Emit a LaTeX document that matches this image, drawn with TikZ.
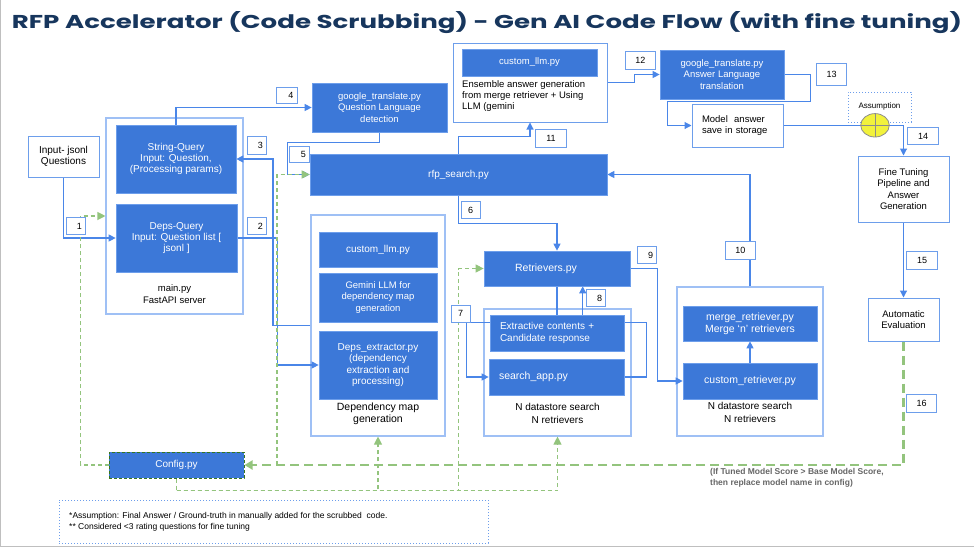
\documentclass[tikz,border=0pt]{standalone}
\usepackage{graphicx}
\usepackage{fontspec}
\setmainfont{Liberation Sans}
\newfontfamily\titlefont{Poppins}
\usetikzlibrary{arrows.meta,calc,shapes.geometric}
\pgfdeclarelayer{bg}
\pgfdeclarelayer{mid}
\pgfsetlayers{bg,mid,main}
\definecolor{dblue}{HTML}{3C78D8}
\definecolor{lnblue}{HTML}{4A86E8}
\definecolor{cblue}{HTML}{9FC0F5}
\definecolor{wblue}{HTML}{6D9EEB}
\definecolor{gdash}{HTML}{93C47D}
\definecolor{gdark}{HTML}{38761D}
\definecolor{ttl}{HTML}{17365D}
\definecolor{condgray}{HTML}{666666}
\definecolor{ellyel}{HTML}{F2F23C}
\tikzset{
  bluebox/.style={rectangle, fill=dblue, draw=wblue, line width=0.7pt, text=white, align=center, inner sep=0pt, font=\fontsize{10}{11.2}\selectfont},
  whitebox/.style={rectangle, fill=white, draw=wblue, line width=1pt, align=center, inner sep=0pt, font=\fontsize{9.5}{11.2}\selectfont},
  container/.style={rectangle, fill=white, draw=cblue, line width=1.1pt, inner sep=0pt},
  numbox/.style={rectangle, fill=white, draw=wblue, line width=1pt, inner sep=0pt, font=\fontsize{9}{10}\selectfont},
  num1/.style={numbox, text width=12pt, align=right, inner xsep=3.5pt, minimum height=17.5pt},
  num2/.style={numbox, minimum width=30.5pt, minimum height=17.5pt},
  conn/.style={draw=lnblue, line width=1.1pt, -{Triangle[length=7pt,width=7pt]}},
  gthin/.style={draw=gdash, line width=1.1pt, dash pattern=on 4pt off 3pt, -{Triangle[length=8pt,width=8pt]}},
  gthick/.style={draw=gdash, line width=2.2pt, dash pattern=on 9pt off 5pt, -{Triangle[length=8pt,width=9pt]}},
  lbl/.style={inner sep=0pt, align=center, font=\fontsize{9.5}{11.2}\selectfont},
}
\begin{document}
\begin{tikzpicture}[x=1pt,y=-1pt]
\useasboundingbox (0,0) rectangle (974,547);
\draw[black!25, line width=1pt] (0.5,0) -- (0.5,546) -- (974,546);

% title
\node[anchor=base, text=ttl, inner sep=0pt] (title) at (487,28.3)
  {\resizebox{950pt}{17pt}{\titlefont\bfseries RFP Accelerator (Code Scrubbing) - Gen AI Code Flow (with fine tuning)}};

% containers
\begin{pgfonlayer}{bg}
\node[container, minimum width=137, minimum height=196] (mainbox) at (174.5,216) {};
\node[container, minimum width=134, minimum height=221] (depmap) at (378,325.5) {};
\node[container, minimum width=147, minimum height=127] (nds1) at (557.5,372.5) {};
\node[container, minimum width=146, minimum height=149] (nds2) at (750,361.5) {};
\node[rectangle, draw=wblue, line width=0.9pt, dash pattern=on 1pt off 2pt, minimum width=429, minimum height=43, inner sep=0pt] (note) at (273.5,521.5) {};
\node[rectangle, draw=wblue, line width=0.9pt, dash pattern=on 1pt off 2pt, minimum width=63, minimum height=30, inner sep=0pt] (assum) at (879.5,107) {};
\end{pgfonlayer}

% white boxes
\node[whitebox, minimum width=154, minimum height=79] (llmout) at (530,82.5) {};
\node[whitebox, minimum width=71, minimum height=41, font=\fontsize{10}{11.2}\selectfont] (input) at (63.5,156.5) {Input- jsonl\\Questions};
\node[whitebox, text width=71pt, inner xsep=10pt, align=left, minimum height=43] (model) at (737.5,125.5) {Model\ \ answer\\save in storage};
\node[whitebox, minimum width=91, minimum height=66] (fine) at (903.5,189) {Fine Tuning\\Pipeline and\\Answer\\Generation};
\node[whitebox, minimum width=71, minimum height=43] (auto) at (903.5,319.5) {Automatic\\Evaluation};
\node[inner sep=0pt, font=\fontsize{8}{9}\selectfont] (assumtxt) at (879.5,106.5) {Assumption};

% blue boxes
\node[bluebox, minimum width=120, minimum height=68] (strq) at (176,159) {String-Query\\Input: Question,\\(Processing params)};
\node[bluebox, minimum width=121, minimum height=68] (depq) at (176.5,238) {Deps-Query\\Input: Question list [\\jsonl ]};
\node[bluebox, minimum width=135, minimum height=49, font=\fontsize{9.5}{11.2}\selectfont] (gtq) at (379.5,107.5) {google\_translate.py\\Question Language\\detection};
\node[bluebox, minimum width=297, minimum height=41] (rfp) at (458.5,174.5) {rfp\_search.py};
\node[bluebox, minimum width=135, minimum height=27, font=\fontsize{9.5}{11.2}\selectfont] (llmin) at (529.5,62.5) {custom\_llm.py};
\node[bluebox, minimum width=124, minimum height=49, font=\fontsize{9.5}{11.2}\selectfont] (gta) at (722,74.5) {google\_translate.py\\Answer Language\\translation};
\node[bluebox, minimum width=118, minimum height=35] (dllm) at (378,249.5) {custom\_llm.py};
\node[bluebox, minimum width=118, minimum height=49, font=\fontsize{9.5}{11.2}\selectfont] (gem) at (378,297.5) {Gemini LLM for\\dependency map\\generation};
\node[bluebox, minimum width=118, minimum height=68] (dext) at (378,365) {Deps\_extractor.py\\(dependency\\extraction and\\processing)};
\node[bluebox, minimum width=146, minimum height=35, font=\fontsize{10.5}{12}\selectfont] (retr) at (557,268.5) {Retrievers.py\hspace{22pt}};
\node[bluebox, text width=114pt, inner xsep=10pt, align=left, minimum height=36] (extr) at (557,333) {Extractive contents +\\Candidate response};
\node[bluebox, text width=115pt, inner xsep=10pt, align=left, minimum height=36, font=\fontsize{10.5}{12}\selectfont] (sapp) at (556.5,377) {search\_app.py};
\node[bluebox, minimum width=134, minimum height=35, font=\fontsize{10.5}{12}\selectfont] (merge) at (750,323.5) {merge\_retriever.py\\Merge `n' retrievers};
\node[bluebox, minimum width=134, minimum height=36, font=\fontsize{10.5}{12}\selectfont] (cret) at (750,381) {custom\_retriever.py};
\node[bluebox, draw=gdark, dash pattern=on 3pt off 2pt, line width=1pt, minimum width=135, minimum height=26] (config) at (176.5,465) {Config.py};

% connectors
\begin{pgfonlayer}{mid}
\draw[conn] (input.south) |- (depq.west);
\draw[conn] (depq.east) -- ++(40.5,0) |- (dext.west);
\draw[conn] (depmap.west) -- ++(-37.5,0) |- (strq.east);
\draw[conn] (strq.north) |- (gtq.west);
\draw[conn] (gtq.south) -- ++(0,10.3) -| ($(rfp.west)+(-22,0)$) -- (rfp.west);
\draw[conn] (rfp.south) -- ++(0,28) -| (retr.north);
\draw[conn] (retr.south) -- ++(0,36.5) -- ++(-90.5,0) |- (sapp.west);
\draw[conn] (sapp.east) -- ++(22,0) -- ++(0,-54.5) -| ($(retr.south)+(25.7,0)$);
\draw[conn] (retr.east) -- ++(27.3,0) |- (cret.west);
\draw[conn] (nds2.north) |- (rfp.east);
\draw[conn] (rfp.north) -- ++(0,-16.8) -| (llmout.south);
\draw[conn] (llmout.east) -- ++(26.6,0) |- (gta.west);
\draw[conn] (gta.east) -- ++(26,0) -- ++(0,27.2) -- ++(-143.3,0) |- (model.west);
\draw[conn] (model.east) -| (fine.north);
\draw[conn] (fine.south) -- (auto.north);
\draw[conn] (cret.north) -- (merge.south);

% green dashed (config)
\coordinate (gj) at (277,465);
\coordinate (gb) at ($(config.south)+(0,12.3)$);
\draw[gthick] (auto.south) |- (config.east);
\draw[gthin] (gj) |- (rfp.west);
\draw[gthin] (config.west) -- ++(-28,0) |- (mainbox.west);
\draw[gthin, -] (config.south) -- (gb);
\draw[gthin] (gb) -| (depmap.south);
\draw[gthin] (gb) -| (nds1.south);
\draw[gthin] (gb) -| ($(retr.west)+(-25,0)$) -- (retr.west);
\end{pgfonlayer}

% assumption marker
\node[ellipse, fill=ellyel, draw=black!45, line width=0.8pt, minimum width=28.6, minimum height=23.4, inner sep=0pt] (ell) at (875,125.3) {};
\draw[black!45, line width=0.8pt] (ell.north) -- (ell.south) (ell.west) -- (ell.east);

% number labels
\node[num1] (n1) at (76,226) {1};
\node[num1] (n2) at (257,226) {2};
\node[num1] (n3) at (257,145.3) {3};
\node[num1, text width=14pt, minimum height=16pt] (n4) at (286.5,95) {4};
\node[num1, text width=13pt, minimum height=16pt] (n5) at (299.3,154) {5};
\node[numbox, minimum width=19, minimum height=17] (n6) at (470.5,210) {6};
\node[numbox, minimum width=19, minimum height=17] (n7) at (460.5,313.8) {7};
\node[num1] (n8) at (596,298) {8};
\node[num1] (n9) at (647,255) {9};
\node[num2] (n10) at (740.3,250.5) {10};
\node[num2] (n11) at (551,138.7) {11};
\node[num2] (n12) at (640.3,60.5) {12};
\node[num2, minimum height=22] (n13) at (831.7,74.5) {13};
\node[num2] (n14) at (923,136) {14};
\node[num2] (n15) at (922,260.3) {15};
\node[num2] (n16) at (921.7,403.7) {16};

% texts
\node[lbl, anchor=north west, align=left] (llmtxt) at (462,80.5) {Ensemble answer generation\\from merge retriever + Using\\LLM (gemini};
\node[lbl, font=\fontsize{9.5}{11.7}\selectfont] (mainlbl) at (174.5,294.2) {main.py\\FastAPI server};
\node[lbl, font=\fontsize{10.5}{12.7}\selectfont] (deplbl) at (378,413.7) {Dependency map\\generation};
\node[lbl, font=\fontsize{10}{13.3}\selectfont] (nds1lbl) at (557.5,413.3) {N datastore search\\N retrievers};
\node[lbl, font=\fontsize{10}{13.3}\selectfont] (nds2lbl) at (750,412.7) {N datastore search\\N retrievers};
\node[lbl, anchor=west, align=left, text=condgray, font=\fontsize{8.5}{10.7}\selectfont\bfseries] (cond) at (710,477.7) {(If Tuned Model Score > Base Model Score,\\then replace model name in config)};
\node[lbl, anchor=west, align=left, font=\fontsize{8.5}{11.2}\selectfont] (notetxt) at (69,521.7) {*Assumption: Final Answer / Ground-truth in manually added for the scrubbed\ \ code.\\** Considered <3 rating questions for fine tuning};
\end{tikzpicture}
\end{document}
